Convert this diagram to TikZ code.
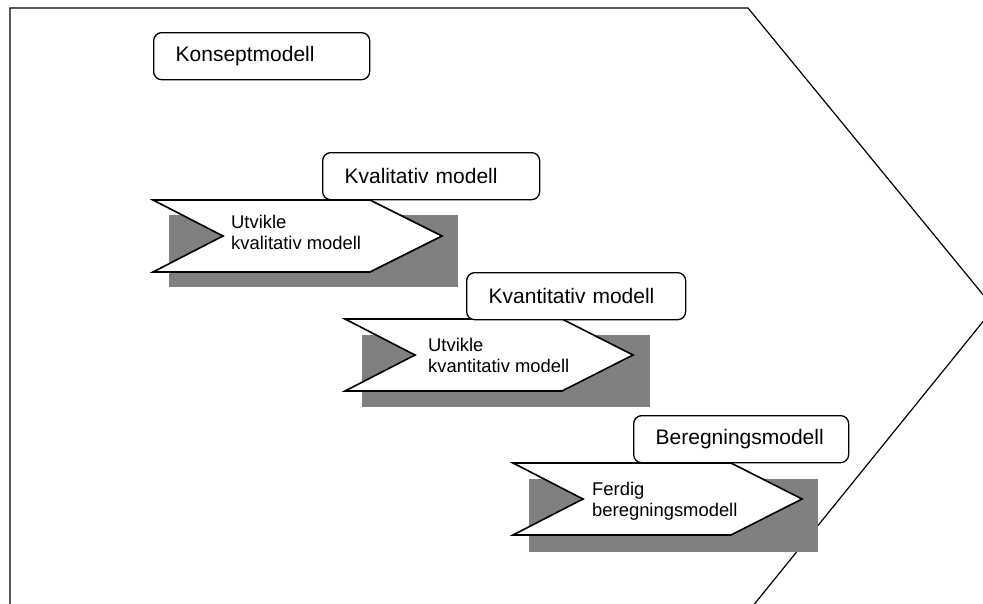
\documentclass[tikz,border=0pt]{standalone}
\usepackage{fontspec}
\setmainfont{Liberation Sans}
\begin{document}
\begin{tikzpicture}[x=1pt,y=-1pt,
  frame/.style={line width=1.2pt, line join=miter},
  shadowbox/.style={fill=black!50, draw=none},
  stagearrow/.style={fill=white, draw=black, line width=1.6pt, line join=miter},
  modelbox/.style={draw=black, fill=white, rounded corners=8pt, line width=1.3pt,
    inner xsep=22pt, inner ysep=0pt, minimum height=47pt, align=left,
    anchor=north west, font=\fontsize{21}{25}\selectfont},
  stagetext/.style={anchor=north west, inner sep=0pt, align=left,
    font=\fontsize{18.4}{21}\selectfont}]
\useasboundingbox (0,0) rectangle (983,603);
\clip (0,0) rectangle (983,603);

% outer process chevron
\draw[frame] (10,612) -- (10,8) -- (748,8) -- (994,308) -- (748,612);

% stage 1
\fill[shadowbox] (169,215) rectangle (458,287);
\draw[stagearrow] (153,200) -- (370,200) -- (442,236) -- (370,272) -- (153,272) -- (223,236) -- cycle;
\node[stagetext] (s1) at (231,215) {Utvikle\\kvalitativ modell};

% stage 2
\fill[shadowbox] (362,335) rectangle (650,407);
\draw[stagearrow] (345,319) -- (562,319) -- (633,355) -- (562,391) -- (345,391) -- (415,355) -- cycle;
\node[stagetext] (s2) at (428,338) {Utvikle\\kvantitativ modell};

% stage 3
\fill[shadowbox] (529,479) rectangle (818,552);
\draw[stagearrow] (513,463) -- (731,463) -- (802,499) -- (731,535) -- (513,535) -- (583,499) -- cycle;
\node[stagetext] (s3) at (592,482) {Ferdig\\beregningsmodell};

% model labels
\node[modelbox, text width=172pt] (konsept) at (153,32) {Konseptmodell};
\node[modelbox, text width=173pt] (kval) at (322,152) {Kvalitativ modell};
\node[modelbox, text width=175pt] (kvant) at (466,272) {Kvantitativ modell};
\node[modelbox, text width=171pt] (bereg) at (633,415) {Beregningsmodell};
\end{tikzpicture}
\end{document}
